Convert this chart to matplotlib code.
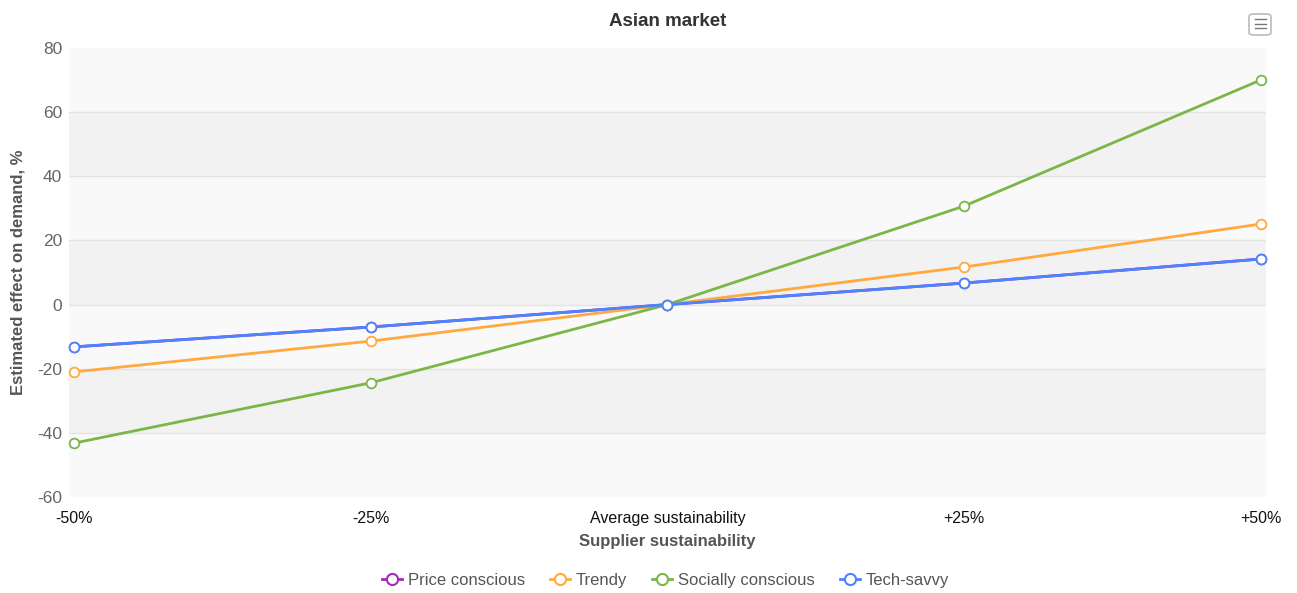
import matplotlib.pyplot as plt
from matplotlib.patches import FancyBboxPatch
from matplotlib.lines import Line2D

categories = ['-50%', '-25%', 'Average sustainability', '+25%', '+50%']
price_conscious = [-13.2, -7.0, 0, 6.7, 14.2]
trendy = [-21.0, -11.4, 0, 11.7, 25.1]
socially_conscious = [-43.2, -24.4, 0, 30.7, 70.0]
tech_savvy = [-13.2, -7.0, 0, 6.7, 14.2]

series = [
    ('Price conscious', price_conscious, '#A22DB5'),
    ('Trendy', trendy, '#FFA940'),
    ('Socially conscious', socially_conscious, '#7AB648'),
    ('Tech-savvy', tech_savvy, '#4C84FF'),
]

plt.rcParams['font.family'] = ['Liberation Sans', 'DejaVu Sans']
plt.rcParams['axes.unicode_minus'] = False

fig = plt.figure(figsize=(12.97, 5.93), dpi=100)
ax = fig.add_axes([0.0532, 0.162, 0.9228, 0.757])

# alternating bands
bands = list(range(-60, 81, 20))
for i in range(len(bands) - 1):
    c = '#f9f9f9' if i % 2 == 0 else '#f2f2f2'
    ax.axhspan(bands[i], bands[i + 1], color=c, zorder=0, lw=0)
for b in bands[1:-1]:
    ax.axhline(b, color='#e3e3e3', lw=1, zorder=0.5)

x = list(range(len(categories)))
handles = []
for name, vals, col in series:
    ax.plot(x, vals, color=col, lw=2, marker='o', ms=7, mfc='white',
            mec=col, mew=1.3, zorder=3, clip_on=False)
    handles.append(Line2D([0], [0], color=col, lw=2, marker='o', ms=8,
                          mfc='white', mec=col, mew=1.5))

ax.set_xlim(-0.018, 4.018)
ax.set_ylim(-60, 80)
ax.set_yticks(bands)
ax.set_xticks(x)
ax.set_xticklabels(categories, fontsize=11.5, color='#111111')
ax.tick_params(axis='y', labelsize=12.5, labelcolor='#666666', length=0, pad=5)
ax.tick_params(axis='x', length=0, pad=10)
for s in ax.spines.values():
    s.set_visible(False)

ax.set_xlabel('Supplier sustainability', fontsize=12, fontweight='bold',
              color='#555555', labelpad=6)
ax.set_ylabel('Estimated effect on demand, %', fontsize=12, fontweight='bold',
              color='#555555', labelpad=8)
fig.text(0.515, 0.963, 'Asian market', ha='center', va='center',
         fontsize=13.5, fontweight='bold', color='#333333')

fig.legend(handles, [s[0] for s in series], loc='center',
           bbox_to_anchor=(0.513, 0.021), ncol=4, frameon=False,
           fontsize=12, labelcolor='#555555', handlelength=1.2,
           handletextpad=0.35, columnspacing=1.5)

# menu icon
fig.patches.append(FancyBboxPatch((1249 / 1297, 1 - 35 / 593), 22 / 1297, 21 / 593,
                                  boxstyle='round,pad=0,rounding_size=0.004',
                                  transform=fig.transFigure, fc='white',
                                  ec='#bbbbbb', lw=1.2))
for yy in (19, 23.5, 28):
    fig.lines.append(Line2D([1255 / 1297, 1266 / 1297], [1 - yy / 593] * 2,
                            transform=fig.transFigure, color='#777777', lw=1))

fig.savefig('out.png', dpi=100)
